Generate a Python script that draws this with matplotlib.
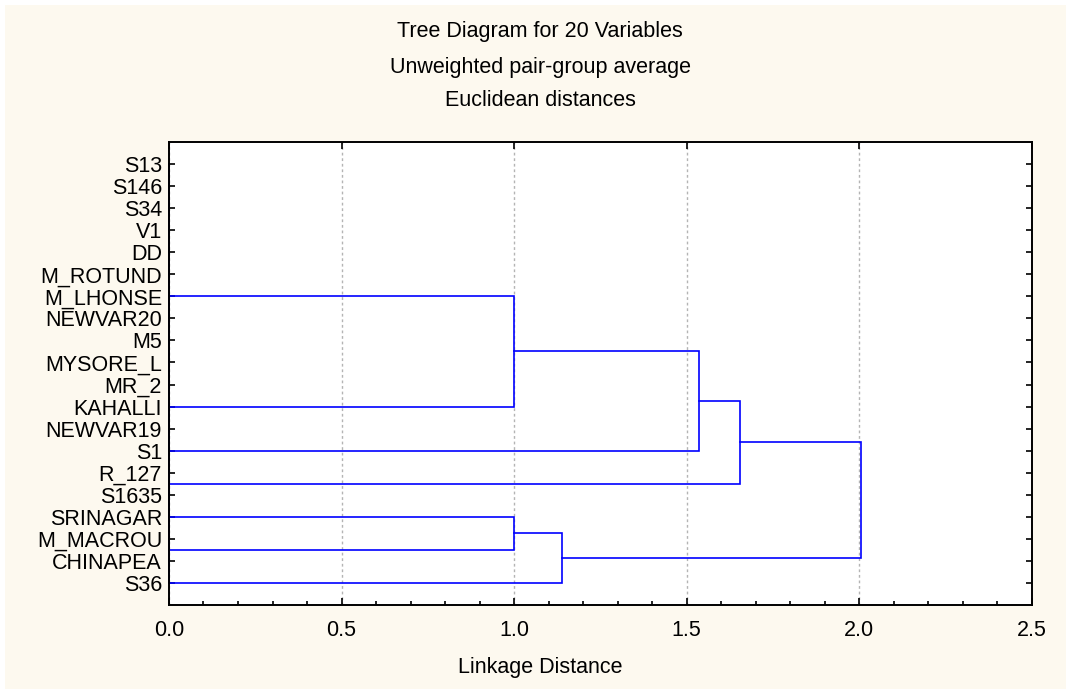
import matplotlib
matplotlib.use("Agg")
import matplotlib.pyplot as plt
from matplotlib.patches import Rectangle
from matplotlib.ticker import MultipleLocator

plt.rcParams['font.family'] = ['Liberation Sans', 'DejaVu Sans']

labels = ["S13", "S146", "S34", "V1", "DD", "M_ROTUND", "M_LHONSE", "NEWVAR20",
          "M5", "MYSORE_L", "MR_2", "KAHALLI", "NEWVAR19", "S1", "R_127", "S1635",
          "SRINAGAR", "M_MACROU", "CHINAPEA", "S36"]

# merges: (left, right, linkage distance); str = leaf, int = earlier merge
merges = [
    ("R_127", "S1635", 0.0),
    ("M_MACROU", "CHINAPEA", 0.0),
    ("M_LHONSE", "KAHALLI", 1.0),
    (2, "S1", 1.535),
    (3, 0, 1.655),
    ("SRINAGAR", 1, 1.0),
    (5, "S36", 1.138),
    (4, 6, 2.005),
]

cream = "#fdf9ef"
blue = "#0000ff"
fs = 15.5

fig = plt.figure(figsize=(10.66, 6.89), dpi=100, facecolor="white")
fig.patches.append(Rectangle((5 / 1066, 0), 1, 1 - 5 / 689, transform=fig.transFigure,
                             facecolor=cream, edgecolor="none", zorder=-10))
ax = fig.add_axes([0.1585, 0.1219, 0.8095, 0.672])
ax.set_facecolor("white")

ypos = {lab: i + 1 for i, lab in enumerate(labels)}
node_y, node_h = [], []


def where(c):
    if isinstance(c, str):
        return ypos[c], 0.0
    return node_y[c], node_h[c]


# leaves tied at zero distance sit on the left axis
ax.plot([0, 0], [1, len(labels)], color=blue, lw=1.2, clip_on=False, zorder=2)
for a, b, h in merges:
    ya, ha = where(a)
    yb, hb = where(b)
    ax.plot([ha, h, h, hb], [ya, ya, yb, yb], color=blue, lw=1.2, zorder=3,
            solid_joinstyle="miter")
    node_y.append((ya + yb) / 2)
    node_h.append(h)

ax.set_xlim(0, 2.5)
ax.set_ylim(len(labels) + 1, 0)
ax.set_yticks(range(1, len(labels) + 1))
ax.set_yticklabels(labels, fontsize=fs)
ax.xaxis.set_major_locator(MultipleLocator(0.5))
ax.xaxis.set_minor_locator(MultipleLocator(0.1))
ax.set_xticklabels([f"{v:.1f}" for v in ax.get_xticks()], fontsize=fs)
ax.tick_params(axis="both", which="both", direction="in", top=True, right=True,
               color="black", width=1.2)
ax.tick_params(axis="x", which="major", length=5, pad=11)
ax.tick_params(axis="x", which="minor", length=3, top=False)
ax.tick_params(axis="y", length=4, pad=5)
ax.grid(axis="x", which="major", color="#b4b4b4", linestyle=(0, (2, 2)), lw=1)
for s in ax.spines.values():
    s.set_linewidth(1.4)
    s.set_zorder(5)

cx = 540 / 1066
fig.text(cx, 1 - 668 / 689, "Linkage Distance", ha="center", va="center", fontsize=fs)
fig.text(cx, 1 - 31 / 689, "Tree Diagram for 20 Variables", ha="center", va="center", fontsize=fs)
fig.text(cx, 1 - 67 / 689, "Unweighted pair-group average", ha="center", va="center", fontsize=fs)
fig.text(cx, 1 - 101 / 689, "Euclidean distances", ha="center", va="center", fontsize=fs)

fig.savefig("out.png", dpi=100, facecolor=fig.get_facecolor())
